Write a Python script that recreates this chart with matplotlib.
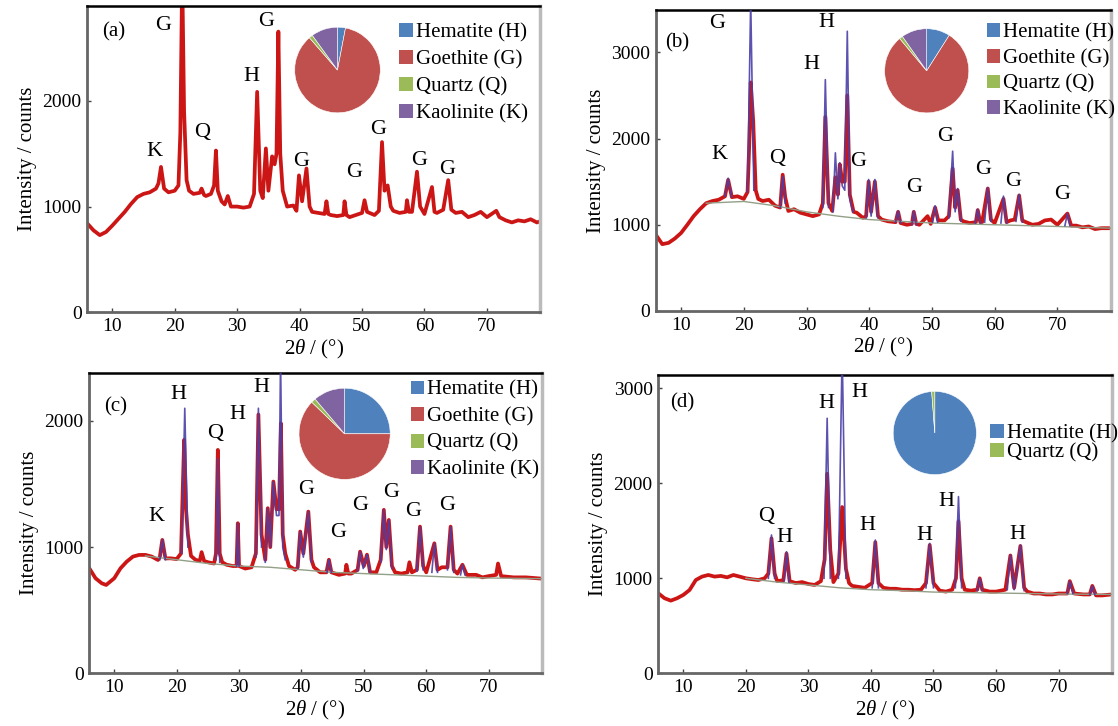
import matplotlib
matplotlib.use('Agg')
import matplotlib.pyplot as plt
from matplotlib.patches import Patch
import numpy as np

plt.rcParams['font.family'] = ['Liberation Serif', 'DejaVu Serif']
plt.rcParams['mathtext.fontset'] = 'custom'
plt.rcParams['mathtext.rm'] = 'Liberation Serif'
plt.rcParams['mathtext.it'] = 'Liberation Serif:italic'

W, H = 1118, 726

# ---- data (2theta in degrees, intensity in counts) ----

a_obs = [(6, 840), (7, 775), (8, 730), (9, 760), (10, 820), (11, 885), (12, 950), (13, 1025), (14, 1090),
         (15, 1120), (16, 1135), (17, 1170), (17.4, 1220), (17.8, 1375), (18.3, 1170), (19, 1135), (20, 1150),
         (20.6, 1200), (20.9, 1700), (21.2, 3200), (21.5, 1900), (21.9, 1250), (22.3, 1150), (23, 1120),
         (24, 1130), (24.3, 1170), (24.7, 1110), (25, 1100), (25.8, 1120), (26.3, 1200), (26.6, 1530),
         (26.9, 1150), (27.5, 1050), (28, 1020), (28.5, 1100), (29, 1000), (30, 1000), (31, 990), (32, 1000),
         (32.7, 1120), (33.2, 2085), (33.7, 1150), (34.1, 1080), (34.6, 1550), (35.0, 1150), (35.6, 1475),
         (36.0, 1400), (36.3, 1500), (36.6, 2655), (36.9, 1500), (37.3, 1150), (38, 1000), (39, 1010),
         (39.5, 960), (39.9, 1295), (40.4, 1050), (41.1, 1360), (41.6, 1000), (42, 950), (43, 940), (44, 930),
         (44.3, 1050), (44.6, 930), (45, 920), (46, 910), (47, 920), (47.2, 1050), (47.5, 920), (48, 900),
         (49, 920), (50, 940), (50.4, 1060), (50.8, 950), (52, 920), (52.7, 960), (53.2, 1610), (53.6, 1150),
         (54.1, 1200), (54.6, 1000), (55, 960), (56, 940), (57, 950), (57.2, 1060), (57.5, 950), (58, 950),
         (58.8, 1330), (59.3, 1000), (60, 930), (61.2, 1185), (61.6, 950), (62, 940), (63, 970), (63.8, 1250),
         (64.3, 970), (65, 940), (66, 950), (67, 900), (68, 920), (69, 950), (70, 900), (71.5, 960), (72, 900),
         (73, 870), (74, 850), (75, 870), (76, 860), (77, 880), (78, 850), (78.5, 860)]

b_obs = [(6, 880), (7, 775), (8, 790), (9, 840), (10, 905), (11, 1000), (12, 1100), (13, 1180), (14, 1250),
         (15, 1275), (16, 1290), (17, 1330), (17.5, 1520), (18.1, 1320), (19, 1330), (20, 1300), (20.6, 1380),
         (20.9, 2000), (21.1, 2650), (21.5, 2200), (21.9, 1400), (22.3, 1300), (23, 1275), (24, 1290),
         (25, 1220), (25.8, 1200), (26.2, 1580), (26.6, 1320), (27.1, 1160), (28, 1180), (29, 1140), (30, 1120),
         (31, 1100), (32, 1120), (32.6, 1250), (33.0, 2250), (33.5, 1250), (34.1, 1160), (34.6, 1550),
         (35.0, 1350), (35.3, 1700), (35.7, 1500), (36.1, 1500), (36.5, 2500), (36.9, 1350), (37.5, 1150),
         (38, 1140), (39, 1080), (39.5, 1100), (39.9, 1500), (40.3, 1150), (40.9, 1500), (41.4, 1100),
         (42, 1060), (43, 1040), (44.2, 1030), (44.6, 1150), (45, 1020), (46, 1000), (46.8, 1010), (47.1, 1150),
         (47.5, 1010), (48, 1000), (49.3, 1100), (49.8, 1010), (50.5, 1200), (51, 1050), (52, 1050),
         (52.7, 1100), (53.3, 1650), (53.7, 1200), (54.1, 1400), (54.6, 1060), (55, 1040), (56, 1020),
         (57, 1030), (57.3, 1170), (57.7, 1030), (58, 1030), (58.9, 1420), (59.4, 1060), (60, 1020),
         (61.4, 1300), (61.9, 1030), (62.5, 1050), (63.2, 1060), (63.9, 1340), (64.4, 1050), (65, 1030),
         (66, 1000), (67, 1010), (68, 1050), (69, 1060), (70, 1000), (71.6, 1130), (72.2, 990), (73, 990),
         (74, 970), (75, 980), (76, 950), (77, 960), (78.5, 960)]

c_obs = [(6, 832), (7, 753), (8, 713), (8.7, 700), (10, 753), (11, 832), (12, 885), (13, 925), (14, 938),
         (15, 938), (16, 925), (17, 898), (17.3, 920), (17.7, 1057), (18.2, 910), (19, 911), (20, 905),
         (20.7, 950), (21.0, 1500), (21.2, 1850), (21.5, 1300), (21.8, 1100), (22.3, 930), (23, 900),
         (23.7, 890), (24, 960), (24.4, 890), (25, 880), (26, 870), (26.3, 950), (26.6, 1770), (26.9, 950),
         (27.3, 880), (28, 860), (29, 850), (29.6, 850), (29.8, 1189), (30.0, 850), (31, 830), (32, 840),
         (32.7, 950), (33.1, 2050), (33.6, 1100), (34.2, 900), (34.6, 1308), (35.0, 1000), (35.5, 1519),
         (36.0, 1300), (36.4, 1300), (36.7, 1980), (37.0, 1100), (37.4, 950), (38, 850), (39, 820), (39.4, 840),
         (39.8, 1123), (40.3, 950), (41.1, 1281), (41.6, 900), (42, 840), (43, 800), (44, 800), (44.4, 900),
         (44.8, 800), (46, 780), (47, 790), (47.2, 860), (47.5, 790), (48, 790), (49, 820), (49.4, 964),
         (50, 850), (50.5, 940), (51, 800), (52, 800), (52.7, 900), (53.2, 1295), (53.6, 1000), (54.0, 1215),
         (54.5, 850), (55, 800), (56, 790), (57, 800), (57.3, 880), (57.7, 800), (58.5, 820), (59.0, 1162),
         (59.5, 850), (60, 800), (61.3, 1030), (61.8, 820), (62.5, 840), (63.4, 840), (63.9, 1162), (64.4, 820),
         (65, 790), (65.8, 860), (66.5, 780), (68, 780), (69, 760), (70, 770), (71.2, 780), (71.5, 870),
         (72, 770), (74, 760), (76, 760), (78.5, 750)]

d_obs = [(6, 842), (7, 790), (8, 765), (9, 790), (10, 825), (11, 877), (12, 982), (13, 1018), (14, 1035),
         (15, 1018), (16, 1025), (17, 1010), (18, 1035), (19, 1018), (20, 1000), (21, 990), (22, 982),
         (23, 1000), (23.6, 1050), (24.1, 1420), (24.6, 1050), (25, 970), (26, 980), (26.5, 1260), (27, 970),
         (28, 950), (29, 960), (30, 940), (31, 930), (32, 970), (32.6, 1200), (33.0, 2100), (33.5, 1300),
         (34, 960), (34.8, 1050), (35.4, 1750), (36, 1100), (36.5, 950), (37, 920), (38, 910), (39, 900),
         (40.2, 950), (40.7, 1380), (41.2, 950), (42, 900), (43, 890), (44, 890), (45, 880), (46, 880),
         (47, 875), (48, 880), (48.8, 950), (49.4, 1350), (50, 950), (51, 870), (52, 860), (53, 880),
         (53.6, 1000), (54.0, 1600), (54.5, 1000), (55, 880), (56, 870), (57, 880), (57.4, 1000), (57.8, 880),
         (59, 860), (60, 860), (61.5, 880), (62.3, 1240), (62.9, 900), (63.9, 1340), (64.5, 900), (65, 860),
         (66, 840), (67, 840), (68, 830), (69, 830), (70, 840), (71.4, 840), (71.8, 970), (72.5, 840),
         (74, 830), (75, 830), (75.4, 920), (76, 820), (77, 820), (78.5, 830)]

# fitted peak profiles (None = gap between peaks)
b_fit = [(17.0, 1330), (17.5, 1540), (18.1, 1320), None, (20.6, 1380), (21.1, 3600), (21.6, 1400), None,
         (25.8, 1200), (26.2, 1560), (26.6, 1250), None, (32.6, 1200), (33.0, 2683), (33.5, 1200), None,
         (34.2, 1150), (34.6, 1834), (35.0, 1300), (35.3, 1718), (35.7, 1450), (36.1, 1400), (36.5, 3243),
         (36.9, 1300), (37.4, 1150), None, (39.5, 1080), (39.9, 1525), (40.3, 1100), (40.9, 1525), (41.4, 1080),
         None, (44.2, 1030), (44.6, 1160), (45, 1020), None, (46.8, 1000), (47.1, 1160), (47.5, 1000), None,
         (50.1, 1030), (50.5, 1220), (50.9, 1030), None, (52.7, 1080), (53.3, 1853), (53.7, 1150), (54.1, 1420),
         (54.6, 1040), None, (56.9, 1020), (57.3, 1180), (57.7, 1020), None, (58.4, 1030), (58.9, 1430),
         (59.4, 1040), None, (61.0, 1020), (61.4, 1332), (61.9, 1020), None, (63.4, 1040), (63.9, 1351),
         (64.4, 1030), None, (71.2, 990), (71.6, 1130), (72.0, 990)]

c_fit = [(17.3, 900), (17.7, 1060), (18.2, 900), None, (20.8, 950), (21.3, 2100), (21.8, 1000), None,
         (26.3, 900), (26.6, 1700), (26.9, 880), None, (29.6, 850), (29.8, 1189), (30.0, 850), None,
         (32.7, 920), (33.1, 2100), (33.6, 1000), None, (34.2, 880), (34.6, 1308), (35.0, 1000), (35.5, 1519),
         (36.0, 1250), (36.4, 1250), (36.65, 2500), (37.0, 1000), (37.4, 900), None, (39.4, 830), (39.8, 1123),
         (40.3, 920), (41.1, 1281), (41.6, 880), None, (44.1, 800), (44.4, 900), (44.8, 800), None, (49.0, 810),
         (49.4, 964), (49.9, 830), (50.5, 940), (51, 800), None, (52.7, 880), (53.2, 1295), (53.6, 980),
         (54.0, 1215), (54.5, 830), None, (58.5, 810), (59.0, 1162), (59.5, 820), None, (60.9, 800),
         (61.3, 1030), (61.8, 800), None, (63.4, 820), (63.9, 1162), (64.4, 800), None, (65.5, 780),
         (65.8, 860), (66.2, 780)]

d_fit = [(23.6, 1000), (24.1, 1456), (24.6, 1000), None, (26.1, 970), (26.5, 1280), (26.9, 960), None,
         (32.5, 1000), (33.0, 2684), (33.5, 1000), None, (34.8, 1000), (35.4, 3400), (36.0, 1000), None,
         (40.2, 900), (40.7, 1403), (41.2, 900), None, (48.8, 900), (49.4, 1368), (50.0, 900), None,
         (53.5, 900), (54.0, 1860), (54.5, 900), None, (57.0, 870), (57.4, 1000), (57.8, 870), None,
         (61.8, 880), (62.3, 1245), (62.9, 880), (63.9, 1350), (64.5, 870), None, (71.4, 840), (71.8, 970),
         (72.3, 840), None, (75.0, 830), (75.4, 920), (75.8, 830)]

# background lines
b_bg = [(14, 1250), (20, 1270), (25, 1220), (30, 1150), (35, 1100), (40, 1060), (45, 1040), (50, 1020),
        (55, 1010), (60, 1000), (65, 990), (70, 980), (78.5, 960)]
c_bg = [(15, 930), (20, 900), (25, 870), (30, 850), (35, 840), (40, 820), (45, 800), (50, 790), (55, 780),
        (60, 770), (65, 760), (70, 755), (78.5, 750)]
d_bg = [(20, 1000), (25, 960), (30, 930), (35, 900), (40, 880), (45, 870), (50, 855), (55, 850), (60, 845),
        (65, 840), (70, 835), (78.5, 830)]

# peak letters (text, 2theta, counts)
a_lab = [('G', 18.2, 2708), ('K', 16.7, 1517), ('Q', 24.4, 1697), ('H', 32.2, 2234), ('G', 34.7, 2749),
         ('G', 40.2, 1431), ('G', 48.7, 1327), ('G', 52.6, 1728), ('G', 59.1, 1438), ('G', 63.6, 1349)]
b_lab = [('G', 15.8, 3332), ('K', 16.1, 1815), ('Q', 25.3, 1764), ('H', 30.7, 2857), ('H', 33.2, 3340),
         ('G', 38.3, 1730), ('G', 47.1, 1429), ('G', 52.1, 2027), ('G', 58.2, 1641), ('G', 62.9, 1506),
         ('G', 70.7, 1351)]
c_lab = [('H', 20.2, 2206), ('K', 16.8, 1242), ('Q', 26.2, 1902), ('H', 29.7, 2048), ('H', 33.5, 2264),
         ('G', 40.8, 1453), ('G', 45.9, 1115), ('G', 49.4, 1329), ('G', 54.4, 1435), ('G', 57.9, 1281),
         ('G', 63.3, 1329)]
d_lab = [('H', 32.8, 2842), ('H', 38.2, 2954), ('Q', 23.3, 1649), ('H', 26.1, 1432), ('H', 39.4, 1551),
         ('H', 48.5, 1446), ('H', 52.1, 1807), ('H', 63.4, 1456)]

# phase fractions (%)
phases = ['Hematite (H)', 'Goethite (G)', 'Quartz (Q)', 'Kaolinite (K)']
phase_colors = ['#4F81BD', '#C0504D', '#9BBB59', '#8064A2']
a_pie = [3.0, 85.6, 1.4, 10.0]
b_pie = [9.0, 79.9, 1.3, 9.8]
c_pie = [25.0, 62.2, 1.6, 11.2]
d_phases = ['Hematite (H)', 'Quartz (Q)']
d_colors = ['#4F81BD', '#9BBB59']
d_pie = [98.8, 1.2]


def xy(points):
    x = np.array([np.nan if p is None else p[0] for p in points], dtype=float)
    y = np.array([np.nan if p is None else p[1] for p in points], dtype=float)
    return x, y


def px_rect(left, top, right, bottom):
    return [left / W, 1 - bottom / H, (right - left) / W, (bottom - top) / H]


panels = [
    dict(tag='(a)', rect=px_rect(87.3, 5.7, 540, 312.3), ymax=2900, yticks=[0, 1000, 2000],
         obs=a_obs, fit=None, bg=None, lab=a_lab, tagpos=(10.3, 2650),
         pie=a_pie, names=phases, colors=phase_colors, pc=(337.5, 70), pr=53.5, leg=(399, 23), ls=0.37),
    dict(tag='(b)', rect=px_rect(656, 10, 1110.7, 311), ymax=3490, yticks=[0, 1000, 2000, 3000],
         obs=b_obs, fit=b_fit, bg=b_bg, lab=b_lab, tagpos=(9.4, 3108),
         pie=b_pie, names=phases, colors=phase_colors, pc=(926.7, 70.8), pr=52.6, leg=(986.6, 23.5), ls=0.3),
    dict(tag='(c)', rect=px_rect(89.3, 373.3, 541.7, 673.3), ymax=2377, yticks=[0, 1000, 2000],
         obs=c_obs, fit=c_fit, bg=c_bg, lab=c_lab, tagpos=(10.2, 2114),
         pie=c_pie, names=phases, colors=phase_colors, pc=(344.6, 433.8), pr=57, leg=(410.7, 380.5), ls=0.35),
    dict(tag='(d)', rect=px_rect(658.3, 375, 1111.7, 673.3), ymax=3140, yticks=[0, 1000, 2000, 3000],
         obs=d_obs, fit=d_fit, bg=d_bg, lab=d_lab, tagpos=(9.8, 2849),
         pie=d_pie, names=d_phases, colors=d_colors, pc=(934.8, 433), pr=52, leg=(990, 424), ls=0.0),
]

fig = plt.figure(figsize=(W / 100, H / 100), dpi=100)

for p in panels:
    ax = fig.add_axes(p['rect'])
    ox, oy = xy(p['obs'])
    ax.plot(ox, oy, color='#cc1616', lw=2.7, zorder=2)
    if p['bg'] is not None:
        bx, by = xy(p['bg'])
        ax.plot(bx, by, color='#93a087', lw=1.0, zorder=3)
    if p['fit'] is not None:
        fx, fy = xy(p['fit'])
        ax.plot(fx, fy, color='#4a3fa8', lw=1.2, alpha=0.9, zorder=4)

    ax.set_xlim(6, 78.5)
    ax.set_ylim(0, p['ymax'])
    ax.set_xticks([10, 20, 30, 40, 50, 60, 70])
    ax.set_yticks(p['yticks'])
    ax.tick_params(direction='in', length=3, width=1, colors='#444444', labelcolor='black',
                   labelsize=14, pad=4)
    for side in ['left', 'bottom']:
        ax.spines[side].set_color('#666666')
        ax.spines[side].set_linewidth(2)
    ax.spines['top'].set_color('black')
    ax.spines['top'].set_linewidth(1.8)
    ax.spines['right'].set_color('#bbbbbb')
    ax.spines['right'].set_linewidth(2.5)

    ax.set_xlabel(r'$\mathit{2\theta}$ / (°)', fontsize=15, labelpad=2)
    ax.set_ylabel('Intensity / counts', fontsize=15, labelpad=4)

    ax.text(p['tagpos'][0], p['tagpos'][1], p['tag'], fontsize=15, ha='center', va='center')
    for t, lx, ly in p['lab']:
        ax.text(lx, ly, t, fontsize=16, ha='center', va='center')

    # inset pie with phase fractions
    cx, cy = p['pc']
    r = p['pr']
    pax = fig.add_axes(px_rect(cx - r, cy - r, cx + r, cy + r))
    pax.pie(p['pie'], colors=p['colors'], startangle=90, counterclock=False,
            wedgeprops=dict(edgecolor='white', linewidth=0.4))
    pax.set_aspect('equal')

    handles = [Patch(facecolor=c, edgecolor='none') for c in p['colors']]
    fig.legend(handles, p['names'], loc='upper left',
               bbox_to_anchor=(p['leg'][0] / W, 1 - p['leg'][1] / H),
               frameon=False, fontsize=15, handlelength=0.65, handleheight=0.65,
               handletextpad=0.15, labelspacing=p['ls'], borderpad=0, borderaxespad=0)

fig.savefig('out.png', dpi=100)
